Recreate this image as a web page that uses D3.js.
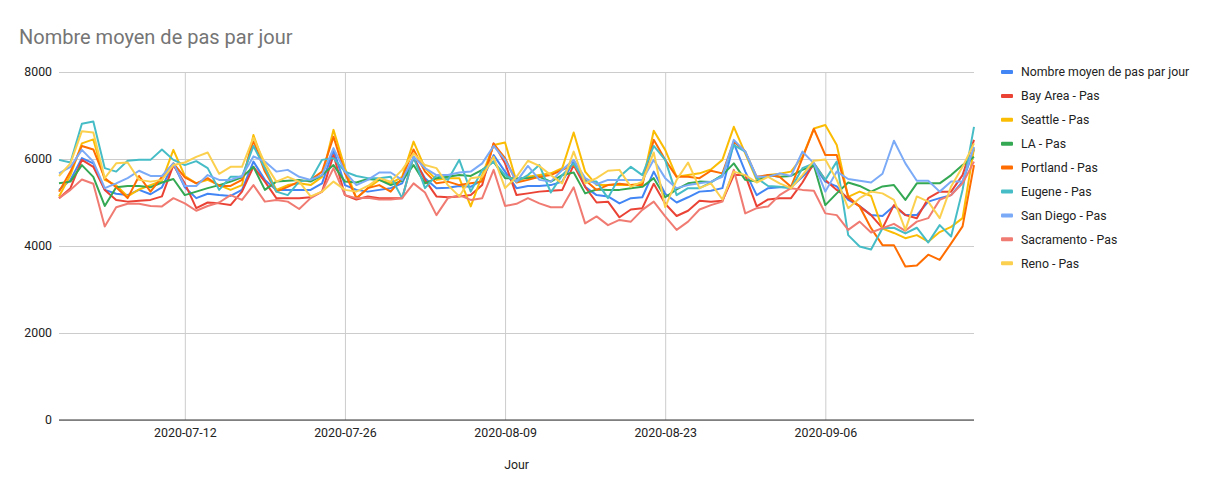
<!DOCTYPE html>
<html>
<head>
<meta charset="utf-8">
<script src="https://cdn.jsdelivr.net/npm/d3@7"></script>
<style>
  body { margin: 0; background: #fff; }
  text { font-family: Roboto, Arial, sans-serif; }
</style>
</head>
<body>
<div id="chart"></div>
<script>
// categories: one point per day
const firstDay = "2020-07-01";
const lastDay = "2020-09-19";
const tickDays = ["2020-07-12", "2020-07-26", "2020-08-09", "2020-08-23", "2020-09-06"];
const yTicks = [0, 2000, 4000, 6000, 8000];

const seriesNames = [
  "Nombre moyen de pas par jour", "Bay Area - Pas", "Seattle - Pas", "LA - Pas",
  "Portland - Pas", "Eugene - Pas", "San Diego - Pas", "Sacramento - Pas", "Reno - Pas"
];
const seriesColors = [
  "#4285F4", "#EA4335", "#FBBC04", "#34A853", "#FF6D01",
  "#46BDC6", "#7BAAF7", "#F07B72", "#FCD04F"
];

// values (steps per day)
const moyenne = [5290, 5520, 6020, 5900, 5290, 5200, 5170, 5290, 5190, 5350, 5890, 5350, 5100, 5200, 5170, 5150, 5290, 5940,
  5520, 5290, 5290, 5290, 5290, 5440, 6210, 5400, 5290, 5250,
  5290, 5330, 5440, 6020, 5560, 5330, 5340, 5380, 5360, 5520,
  6090, 5710, 5330, 5380, 5380, 5400, 5480, 5940, 5360, 5170,
  5140, 4980, 5100, 5120, 5710, 5200, 5000, 5120, 5250, 5270,
  5330, 6360, 5710, 5170, 5330, 5350, 5350, 5590, 5860,
  5480, 5370, 5060, 4920, 4710, 4690, 4920, 4710, 4710, 5020, 5100, 5170, 5480, 6220];
const bayArea = [5100, 5330, 5980, 5820, 5290, 5060, 5020, 5040, 5060, 5140, 5860, 5440, 4870, 5000, 4980, 4940, 5250, 5820,
  5480, 5100, 5100, 5100, 5120, 5250, 6090, 5170, 5070, 5140,
  5100, 5100, 5100, 6050, 5520, 5140, 5120, 5140, 5170, 5400,
  6360, 5900, 5170, 5210, 5250, 5270, 5290, 5860, 5360, 5000,
  5020, 4660, 4840, 4870, 5430, 4970, 4690, 4810, 5040, 5020,
  5040, 5630, 5630, 4910, 5070, 5100, 5100, 5460, 5900,
  5520, 5290, 5100, 4910, 4710, 4410, 4940, 4710, 4640, 5100, 5250, 5250, 5630, 6440];
const seattle = [5140, 5630, 6360, 6450, 5520, 5400, 5140, 5300, 5400, 5500, 6210, 5610, 5440, 5520, 5400, 5290, 5400, 6550,
  5820, 5290, 5400, 5440, 5400, 5590, 6670, 5790, 5100, 5330,
  5520, 5440, 5590, 6400, 5790, 5520, 5560, 5560, 4910, 5630,
  6320, 6380, 5480, 5590, 5630, 5670, 5790, 6610, 5710, 5400,
  5400, 5400, 5400, 5440, 6650, 6210, 5590, 5630, 5670, 5760,
  5980, 6740, 6130, 5520, 5630, 5660, 5710, 6050, 6700,
  6780, 6320, 5130, 5250, 5150, 4400, 4300, 4180, 4250, 4100, 4320, 4440, 4640, 6250];
const la = [5440, 5480, 5860, 5590, 4920, 5350, 5380, 5380, 5350, 5460, 5540, 5170, 5250, 5330, 5400, 5480, 5580, 5820,
  5290, 5480, 5500, 5520, 5480, 5630, 5860, 5480, 5460, 5540,
  5520, 5400, 5500, 5860, 5440, 5560, 5590, 5630, 5610, 5750,
  5940, 5560, 5560, 5560, 5590, 5480, 5630, 5690, 5210, 5300,
  5290, 5290, 5330, 5360, 5560, 5120, 5300, 5440, 5480, 5470,
  5630, 5900, 5520, 5480, 5630, 5590, 5610, 5750, 5850,
  4940, 5210, 5460, 5380, 5250, 5370, 5400, 5060, 5440, 5440, 5440, 5630, 5860, 6050];
const portland = [5250, 5710, 6300, 6220, 5560, 5350, 5100, 5610, 5250, 5590, 5900, 5580, 5440, 5560, 5380, 5380, 5520, 6420,
  5710, 5250, 5360, 5480, 5520, 5710, 6510, 5670, 5100, 5330,
  5400, 5250, 5560, 6220, 5710, 5440, 5480, 5400, 5440, 5480,
  6350, 6020, 5460, 5520, 5590, 5630, 5750, 5860, 5520, 5290,
  5400, 5430, 5400, 5400, 6440, 5980, 5590, 5590, 5560, 5730,
  5670, 6400, 6170, 5590, 5630, 5590, 5360, 6020, 6690,
  6090, 6090, 5140, 4910, 4410, 4020, 4020, 3530, 3550, 3800, 3680, 4060, 4450, 5860];
const eugene = [5980, 5920, 6810, 6860, 5790, 5710, 5960, 5980, 5980, 6220, 5980, 5860, 5950, 5790, 5290, 5590, 5590, 6300,
  5790, 5250, 5170, 5480, 5520, 5980, 6020, 5710, 5610, 5560,
  5560, 5590, 5100, 6050, 5330, 5630, 5520, 5980, 5250, 5740,
  5940, 5630, 5480, 5630, 5860, 5230, 5630, 5900, 5480, 5480,
  5100, 5590, 5820, 5630, 6300, 5980, 5170, 5330, 5330, 5460,
  5630, 6320, 6170, 5560, 5380, 5360, 5330, 5790, 5900,
  5520, 5940, 4250, 3990, 3920, 4410, 4420, 4290, 4420, 4080, 4480, 4220, 5290, 6740];
const sanDiego = [5670, 5820, 6210, 5940, 5330, 5440, 5560, 5730, 5610, 5610, 5900, 5380, 5380, 5630, 5520, 5520, 5610, 6060,
  5940, 5710, 5750, 5590, 5520, 5630, 6250, 5710, 5400, 5520,
  5690, 5690, 5520, 6050, 5790, 5630, 5630, 5690, 5710, 5900,
  6300, 5980, 5480, 5840, 5520, 5480, 5750, 5980, 5560, 5420,
  5520, 5520, 5520, 5520, 5980, 5560, 5330, 5400, 5440, 5480,
  5590, 6440, 6170, 5590, 5590, 5670, 5610, 6170, 5900,
  5250, 5710, 5540, 5500, 5460, 5660, 6420, 5900, 5500, 5500, 5250, 5480, 5480, 6280];
const sacramento = [5100, 5290, 5530, 5430, 4450, 4890, 4970, 4970, 4920, 4910, 5100, 4980, 4810, 4920, 5000, 5170, 5060, 5400,
  5020, 5060, 5020, 4850, 5100, 5250, 5790, 5170, 5100, 5110,
  5070, 5070, 5100, 5440, 5230, 4710, 5100, 5170, 5060, 5100,
  5750, 4920, 4970, 5100, 4980, 4890, 4890, 5350, 4520, 4680,
  4480, 4600, 4560, 4830, 5020, 4680, 4370, 4560, 4840, 4940,
  5020, 5750, 4750, 4870, 4910, 5170, 5330, 5290, 5270,
  4750, 4710, 4370, 4560, 4310, 4410, 4510, 4350, 4560, 4640, 5060, 5170, 5440, 5940];
const reno = [5610, 5900, 6640, 6610, 5560, 5900, 5920, 5520, 5480, 5520, 5860, 5920, 6050, 6150, 5660, 5820, 5820, 6490,
  5900, 5480, 5590, 5480, 5140, 5250, 5480, 5290, 5250, 5380,
  5560, 5480, 5750, 6130, 5860, 5790, 5400, 5140, 5560, 5590,
  6050, 5330, 5590, 5960, 5840, 5630, 5440, 6170, 5440, 5560,
  5730, 5750, 5360, 5480, 6150, 4890, 5520, 5920, 5330, 5440,
  5070, 5710, 5630, 5460, 5590, 5440, 5330, 5630, 5960,
  5990, 5520, 4870, 5100, 5250, 5210, 5060, 4370, 5140, 5020, 4640, 5370, 5820, 6360];

const seriesValues = [moyenne, bayArea, seattle, la, portland, eugene, sanDiego, sacramento, reno];

// layout
const width = 1215;
const height = 497;
const plotLeft = 59, plotRight = 974, plotTop = 72, plotBottom = 420;

const parseDay = d3.utcParse("%Y-%m-%d");
const days = d3.utcDay.range(parseDay(firstDay), d3.utcDay.offset(parseDay(lastDay), 1));

const svg = d3.select("#chart").append("svg")
  .attr("width", width)
  .attr("height", height)
  .style("display", "block");

svg.append("rect").attr("width", width).attr("height", height).attr("fill", "#fff");

const x = d3.scaleUtc()
  .domain([days[0], days[days.length - 1]])
  .range([plotLeft, plotRight]);

const y = d3.scaleLinear()
  .domain([0, 8000])
  .range([plotBottom, plotTop]);

// horizontal grid + y labels
const yAxis = svg.append("g")
  .attr("transform", `translate(${plotLeft},0)`)
  .call(d3.axisLeft(y).tickValues(yTicks).tickSize(-(plotRight - plotLeft)).tickPadding(7).tickFormat(d3.format("d")));
yAxis.select(".domain").remove();
yAxis.selectAll(".tick line").attr("stroke", "#cccccc");
yAxis.selectAll(".tick text")
  .attr("fill", "#222")
  .style("font-size", "12.3px");

// vertical grid + x labels
const xAxis = svg.append("g")
  .attr("transform", `translate(0,${plotBottom})`)
  .call(d3.axisBottom(x)
    .tickValues(tickDays.map(parseDay))
    .tickSize(-(plotBottom - plotTop))
    .tickPadding(8)
    .tickFormat(d3.utcFormat("%Y-%m-%d")));
xAxis.select(".domain").remove();
xAxis.selectAll(".tick line").attr("stroke", "#cccccc");
xAxis.selectAll(".tick text")
  .attr("fill", "#222")
  .attr("y", 8)
  .attr("dy", "0.71em")
  .style("font-size", "12.4px");

// baseline
svg.append("line")
  .attr("x1", plotLeft).attr("x2", plotRight)
  .attr("y1", y(0)).attr("y2", y(0))
  .attr("stroke", "#333").attr("stroke-width", 1);

// lines
const line = d3.line()
  .x((d, i) => x(days[i]))
  .y(d => y(d));

svg.append("g")
  .selectAll("path")
  .data(seriesValues)
  .join("path")
  .attr("d", line)
  .attr("fill", "none")
  .attr("stroke", (d, i) => seriesColors[i])
  .attr("stroke-width", 2)
  .attr("stroke-linejoin", "round");

// title
svg.append("text")
  .attr("x", 19)
  .attr("y", 44)
  .attr("fill", "#757575")
  .style("font-size", "20px")
  .text("Nombre moyen de pas par jour");

// x axis title
svg.append("text")
  .attr("x", (plotLeft + plotRight) / 2)
  .attr("y", 469)
  .attr("text-anchor", "middle")
  .attr("fill", "#222")
  .style("font-size", "12.3px")
  .text("Jour");

// legend
const legend = svg.append("g")
  .selectAll("g")
  .data(seriesNames)
  .join("g")
  .attr("transform", (d, i) => `translate(1001,${72 + i * 23.9})`);

legend.append("rect")
  .attr("x", 0).attr("y", -2)
  .attr("width", 12).attr("height", 4)
  .attr("rx", 1)
  .attr("fill", (d, i) => seriesColors[i]);

legend.append("text")
  .attr("x", 20)
  .attr("dy", "0.35em")
  .attr("fill", "#222")
  .style("font-size", "12.3px")
  .text(d => d);
</script>
</body>
</html>
